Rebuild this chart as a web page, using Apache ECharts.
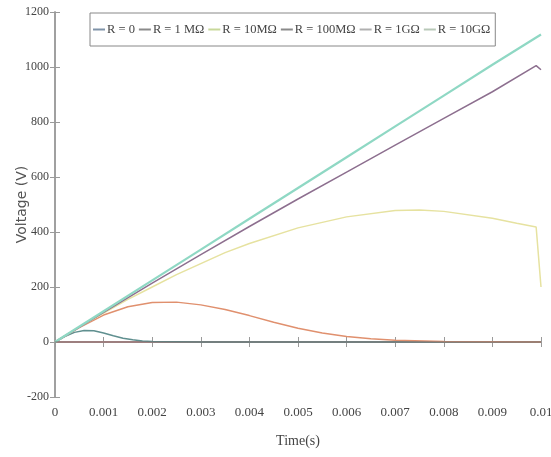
<!DOCTYPE html>
<html><head><meta charset="utf-8">
<script src="https://cdn.jsdelivr.net/npm/echarts@6/dist/echarts.min.js"></script>
<style>html,body{margin:0;padding:0;background:#fff}#c{width:551px;height:457px}</style>
</head><body><div id="c"></div>
<script>
const seriesNames = ['R = 0', 'R = 1 MΩ', 'R = 10MΩ', 'R = 100MΩ', 'R = 1GΩ', 'R = 10GΩ'];
const xTicks = [0, 0.001, 0.002, 0.003, 0.004, 0.005, 0.006, 0.007, 0.008, 0.009, 0.01];
const yTicks = [-200, 0, 200, 400, 600, 800, 1000, 1200];

const tR0 = [0, 0.01];
const vR0 = [0, 0];

const tR1M = [0, 0.0002, 0.0004, 0.0006, 0.0008, 0.001, 0.0012, 0.0014, 0.0016, 0.0018, 0.002, 0.003, 0.01];
const vR1M = [0, 20, 35, 42, 41, 33, 23, 14, 8, 4, 2, 0, 0];

const tR10M = [0, 0.0005, 0.001, 0.0015, 0.002, 0.0025, 0.003, 0.0035, 0.004, 0.0045, 0.005, 0.0055, 0.006, 0.0065, 0.007, 0.008, 0.009, 0.01];
const vR10M = [0, 52, 98, 128, 144, 145, 135, 118, 96, 72, 50, 33, 20, 12, 6, 2, 1, 0];

const tR100M = [0, 0.0005, 0.001, 0.0015, 0.002, 0.0025, 0.003, 0.0035, 0.004, 0.005, 0.006, 0.007, 0.0075, 0.008, 0.009, 0.0095, 0.0099, 0.01];
const vR100M = [0, 55, 105, 155, 200, 245, 285, 325, 358, 415, 455, 478, 480, 475, 450, 432, 418, 200];

const tR1G = [0, 0.001, 0.002, 0.003, 0.004, 0.005, 0.006, 0.007, 0.008, 0.009, 0.0099, 0.01];
const vR1G = [0, 108, 214, 318, 420, 520, 618, 716, 813, 910, 1005, 990];

const tR10G = [0, 0.001, 0.002, 0.003, 0.004, 0.005, 0.006, 0.007, 0.008, 0.009, 0.01];
const vR10G = [0, 112, 224, 336, 448, 560, 672, 784, 896, 1008, 1118];

const colors = ['#d98a8a', '#5f8f8f', '#e0906e', '#e6e2a0', '#8d6f8f', '#8fd8c4'];
const legendColors = ['#7f93a8', '#8a8a8a', '#c8d89a', '#8a8a8a', '#b0b0b0', '#b8c8b8'];

const pairs = (t, v) => t.map((x, i) => [x, v[i]]);
const allT = [tR0, tR1M, tR10M, tR100M, tR1G, tR10G];
const allV = [vR0, vR1M, vR10M, vR100M, vR1G, vR10G];

const serif = 'Liberation Serif';
const axisCol = '#9a9a9a';

const chart = echarts.init(document.getElementById('c'), null, {renderer: 'canvas'});
const series = seriesNames.map((n, i) => ({
  name: n, type: 'line', data: pairs(allT[i], allV[i]), showSymbol: false, symbol: 'none',
  lineStyle: {color: colors[i], width: i === 5 ? 2.2 : 1.5},
  itemStyle: {color: legendColors[i]},
  z: i === 0 ? 1 : 2
}));
series.push({type: 'line', data: pairs(tR0, vR0), symbol: 'none', lineStyle: {color: '#707070', width: 1.2}, z: 3, silent: true});

chart.setOption({
  animation: false,
  backgroundColor: '#fff',
  grid: {left: 55, right: 10, top: 12, bottom: 60, containLabel: false, outerBoundsMode: 'none'},
  legend: {
    data: seriesNames, left: 90, top: 13, itemWidth: 12, itemHeight: 2, itemGap: 4,
    icon: 'rect',
    padding: [10, 5, 10, 3], borderColor: '#888', borderWidth: 1,
    textStyle: {fontFamily: serif, fontSize: 12.5, color: '#444', padding: [0, 0, 0, -3]}
  },
  xAxis: [{
    type: 'value', min: 0, max: 0.01, interval: 0.001,
    name: 'Time(s)', nameLocation: 'middle', nameGap: 37,
    nameTextStyle: {fontFamily: serif, fontSize: 14, color: '#444'},
    axisLine: {lineStyle: {color: axisCol, width: 1.5}},
    axisTick: {inside: true, length: 5, lineStyle: {color: axisCol}},
    splitLine: {show: false},
    axisLabel: {fontFamily: serif, fontSize: 13, color: '#444', margin: 9,
      formatter: v => { const k = xTicks.find(x => Math.abs(x - v) < 1e-9); return k === undefined ? '' : String(k); }}
  }, {
    type: 'value', position: 'top', min: 0, max: 0.01, interval: 0.001,
    axisLine: {show: true, lineStyle: {color: axisCol, width: 1.5}},
    axisTick: {inside: true, length: 5, lineStyle: {color: axisCol}},
    axisLabel: {show: false}, splitLine: {show: false}
  }],
  yAxis: [{
    type: 'value', min: -200, max: 1200, interval: 200,
    name: 'Voltage (V)', nameLocation: 'middle', nameGap: 26, nameMoveOverlap: false,
    nameTextStyle: {fontFamily: 'DejaVu Sans', fontSize: 14, color: '#555'},
    axisLine: {show: true, lineStyle: {color: axisCol, width: 1.5}},
    axisTick: {show: true, inside: true, length: 5, lineStyle: {color: axisCol}},
    splitLine: {show: false},
    axisLabel: {fontFamily: serif, fontSize: 12, color: '#444', margin: 6,
      formatter: v => yTicks.includes(v) ? String(v) : ''}
  }, {
    type: 'value', position: 'right', min: -200, max: 1200, interval: 200,
    axisLine: {show: true, lineStyle: {color: axisCol, width: 1.5}},
    axisTick: {show: true, inside: true, length: 5, lineStyle: {color: axisCol}},
    axisLabel: {show: false}, splitLine: {show: false}
  }],
  series: series
});
</script></body></html>
